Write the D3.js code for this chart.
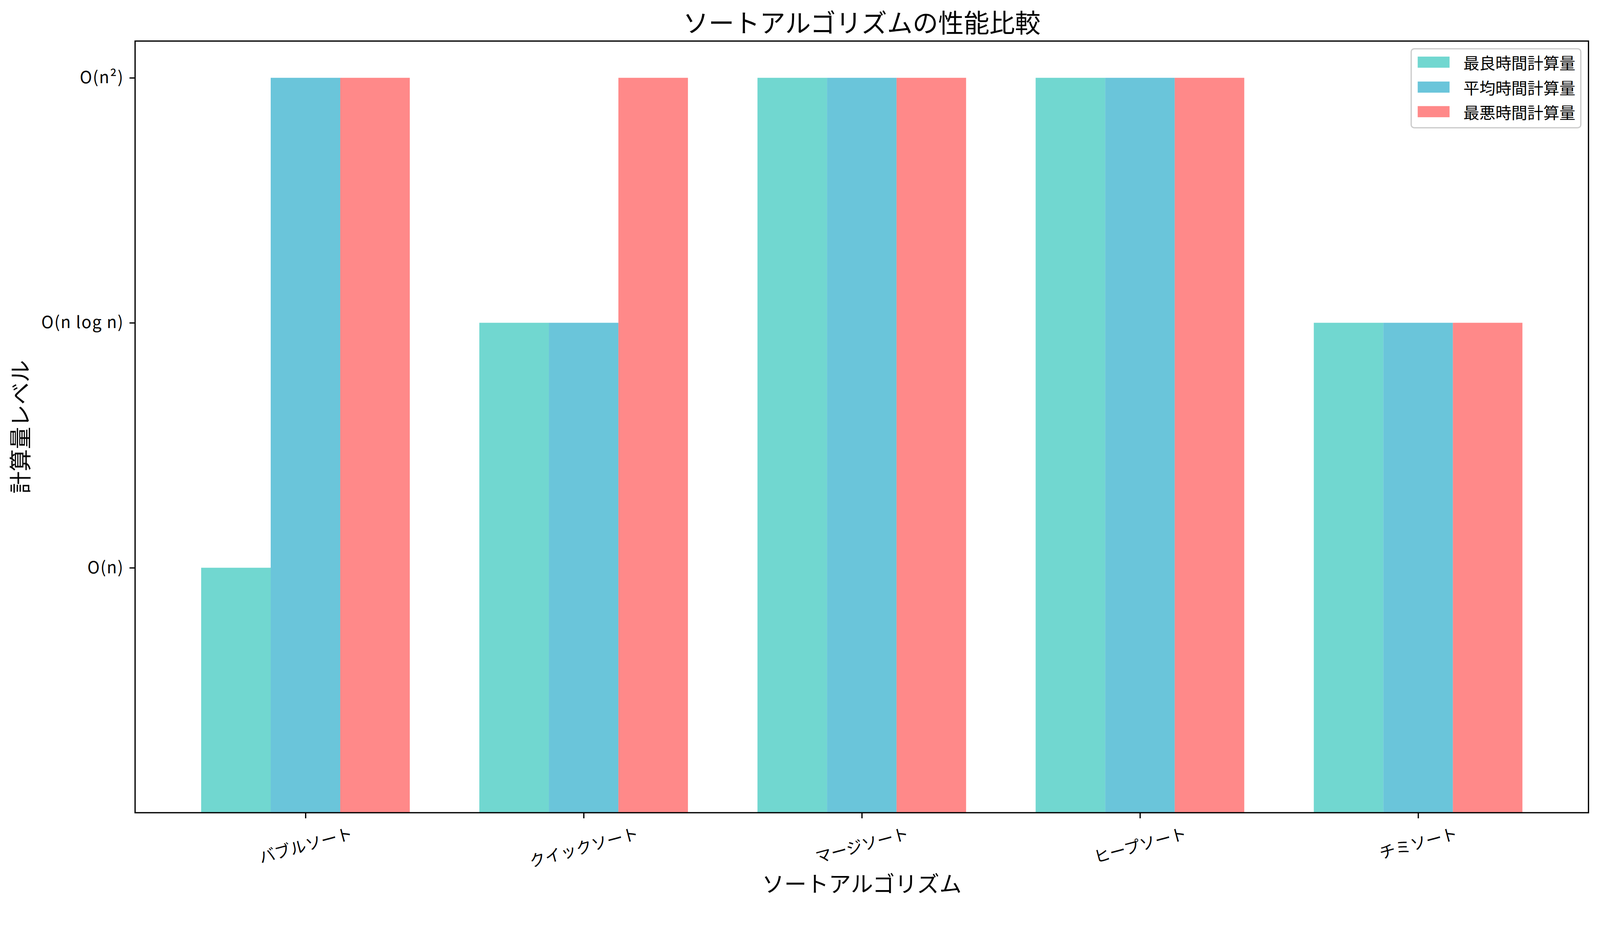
<!DOCTYPE html>
<html>
<head>
<meta charset="utf-8">
<script src="https://cdn.jsdelivr.net/npm/d3@7"></script>
<style>
  html, body { margin: 0; padding: 0; background: #fff; overflow: hidden; width: 100%; height: 100%; }
  svg { display: block; width: 100vw; height: 100vh; }
  text { font-family: "Noto Sans CJK JP", "Noto Sans", sans-serif; fill: #000; }
</style>
</head>
<body>
<svg id="chart"></svg>
<script>
const categories = ["バブルソート", "クイックソート", "マージソート", "ヒープソート", "チミソート"];
const seriesNames = ["最良時間計算量", "平均時間計算量", "最悪時間計算量"];
const bestValues = [1, 2, 3, 3, 2];
const averageValues = [3, 2, 3, 3, 2];
const worstValues = [3, 3, 3, 3, 2];
const seriesColors = ["#4ECDC4", "#45B7D1", "#FF6B6B"];
const yTickValues = [1, 2, 3];
const yTickLabels = ["O(n)", "O(n log n)", "O(n²)"];
const titleText = "ソートアルゴリズムの性能比較";
const xLabelText = "ソートアルゴリズム";
const yLabelText = "計算量レベル";

const W = 4169, H = 2371;
const margin = { left: 352, right: W - 4139, top: 107, bottom: H - 2118 };
const iw = W - margin.left - margin.right;
const ih = H - margin.top - margin.bottom;

const svg = d3.select("#chart")
  .attr("viewBox", `0 0 ${W} ${H}`)
  .attr("preserveAspectRatio", "xMidYMin meet");
svg.append("rect").attr("width", W).attr("height", H).attr("fill", "#fff");
const g = svg.append("g").attr("transform", `translate(${margin.left},${margin.top})`);

const seriesValues = [bestValues, averageValues, worstValues];
const barW = 0.25;
const x = d3.scaleLinear().domain([-0.6125, 4.6125]).range([0, iw]);
const y = d3.scaleLinear().domain([0, 3.15]).range([ih, 0]);

// bars
seriesValues.forEach((vals, s) => {
  g.append("g").selectAll("rect").data(vals).join("rect")
    .attr("x", (d, i) => x(i + (s - 1) * barW - barW / 2))
    .attr("width", (d, i) => x(i + (s - 1) * barW + barW / 2) - x(i + (s - 1) * barW - barW / 2))
    .attr("y", d => y(d))
    .attr("height", d => y(0) - y(d))
    .attr("fill", seriesColors[s])
    .attr("fill-opacity", 0.8);
});

// axes
const tickLen = 14.6, tickPad = 14.6;
const yAxis = d3.axisLeft(y).tickValues(yTickValues).tickFormat((d, i) => yTickLabels[i])
  .tickSize(tickLen).tickPadding(tickPad);
const yG = g.append("g").call(yAxis);
yG.select(".domain").remove();
yG.selectAll(".tick line").attr("stroke", "#000").attr("stroke-width", 3.3);
yG.selectAll(".tick text").attr("font-size", 43).attr("letter-spacing", 2)
  .attr("font-family", '"Noto Sans CJK JP", sans-serif');

const xAxis = d3.axisBottom(x).tickValues(d3.range(categories.length)).tickFormat(() => "")
  .tickSize(tickLen);
const xG = g.append("g").attr("transform", `translate(0,${ih})`).call(xAxis);
xG.select(".domain").remove();
xG.selectAll(".tick line").attr("stroke", "#000").attr("stroke-width", 3.3);

// rotated x tick labels (rotation 15, centred under tick, top aligned)
const theta = 15 * Math.PI / 180;
const fs = 41.7;
categories.forEach((c, i) => {
  const t = g.append("text")
    .attr("font-size", fs)
    .attr("text-anchor", "middle")
    .attr("dominant-baseline", "central")
    .text(c);
  const w = t.node().getComputedTextLength();
  const h = fs * 1.2;
  const bh = w * Math.sin(theta) + h * Math.cos(theta);
  const cx = x(i);
  const cy = ih + tickLen + tickPad + bh / 2 - 4;
  t.attr("transform", `translate(${cx},${cy}) rotate(-15)`);
});

// spines
g.append("rect").attr("x", 0).attr("y", 0).attr("width", iw).attr("height", ih)
  .attr("fill", "none").attr("stroke", "#000").attr("stroke-width", 3.3);

// title and labels
svg.append("text").attr("x", margin.left + iw / 2).attr("y", 84)
  .attr("text-anchor", "middle").attr("font-size", 66.7).text(titleText);
svg.append("text").attr("x", margin.left + iw / 2).attr("y", 2325)
  .attr("text-anchor", "middle").attr("font-size", 58).text(xLabelText);
svg.append("text").attr("transform", `translate(74,${margin.top + ih / 2}) rotate(-90)`)
  .attr("text-anchor", "middle").attr("font-size", 58).text(yLabelText);

// legend
const lg = svg.append("g");
lg.append("rect").attr("x", 3677).attr("y", 127).attr("width", 442).attr("height", 206)
  .attr("rx", 8).attr("ry", 8).attr("fill", "#fff").attr("fill-opacity", 0.8)
  .attr("stroke", "#cccccc").attr("stroke-width", 3.3);
const rowY = [162, 227, 291];
seriesNames.forEach((n, s) => {
  lg.append("rect").attr("x", 3694).attr("y", rowY[s] - 14.5).attr("width", 83).attr("height", 29)
    .attr("fill", seriesColors[s]).attr("fill-opacity", 0.8);
  lg.append("text").attr("x", 3813).attr("y", rowY[s]).attr("dominant-baseline", "central")
    .attr("font-size", 41.7).text(n);
});
</script>
</body>
</html>
